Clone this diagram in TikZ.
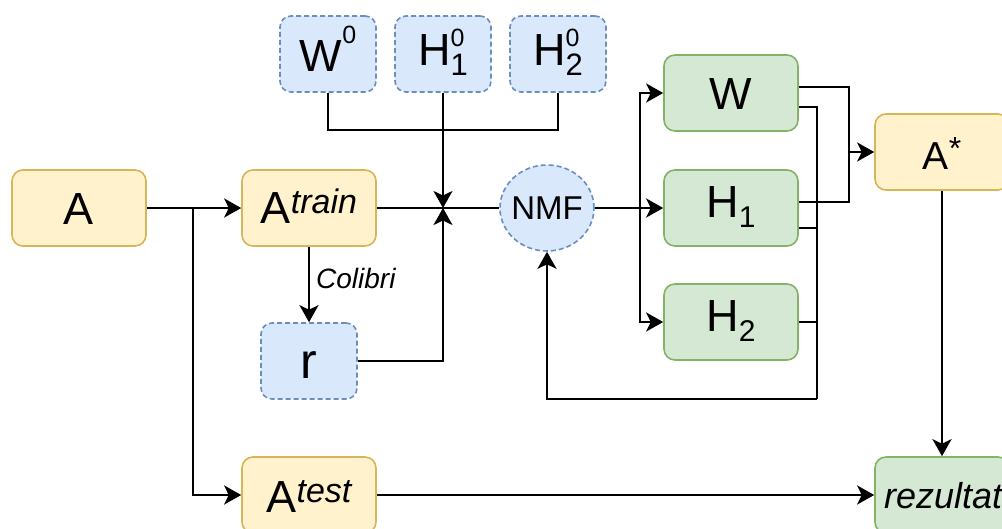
\documentclass[tikz,border=0pt]{standalone}
\usepackage{fontspec}
\setmainfont{Liberation Sans}
\setsansfont{Liberation Sans}
\usetikzlibrary{arrows.meta,shapes.geometric}
\definecolor{yfill}{HTML}{FFF2CC}
\definecolor{ydraw}{HTML}{D6B656}
\definecolor{bfill}{HTML}{DAE8FC}
\definecolor{bdraw}{HTML}{6C8EBF}
\definecolor{gfill}{HTML}{D5E8D4}
\definecolor{gdraw}{HTML}{82B366}
\newcommand{\fs}[1]{\fontsize{#1}{#1}\selectfont}
\newcommand{\sm}[2]{\smash{\raisebox{#1}{#2}}}
\tikzset{
  box/.style={rectangle, rounded corners=11pt, line width=1.6pt, inner sep=0pt,
    minimum width=134pt, minimum height=76pt, font=\fs{45}},
  ybox/.style={box, fill=yfill, draw=ydraw},
  gbox/.style={box, fill=gfill, draw=gdraw},
  bbox/.style={box, fill=bfill, draw=bdraw, dashed, dash pattern=on 5pt off 3pt, minimum width=96pt},
  conn/.style={line width=2.2pt, black},
  arr/.style={conn, -{Stealth[length=17pt,width=19pt,inset=4.5pt]}},
}
\begin{document}
\begin{tikzpicture}[x=1pt,y=-1pt]
\useasboundingbox (0,0) rectangle (1002,528);
\clip (0,0) rectangle (1002,528);
% nodes
\node[ybox] (A) at (79,208) {\sm{-16pt}{A}};
\node[ybox] (Atr) at (309,208) {\sm{-15pt}{A\raisebox{10pt}{\fs{34}\itshape train}}};
\node[bbox] (W0) at (328,54) {\sm{-17pt}{W\raisebox{28pt}{\fs{25}0}}};
\node[bbox] (H10) at (443,54) {\sm{-11pt}{H\rlap{\raisebox{19pt}{\fs{25}0}}\raisebox{-10pt}{\fs{31}1}}};
\node[bbox] (H20) at (558,54) {\sm{-11pt}{H\rlap{\raisebox{19pt}{\fs{25}0}}\raisebox{-10pt}{\fs{31}2}}};
\node[bbox] (r) at (309,361) {\sm{-17pt}{\fs{50}r}};
\node[ellipse, fill=bfill, draw=bdraw, line width=1.6pt, dashed, dash pattern=on 5pt off 3pt,
  minimum width=94pt, minimum height=86pt, inner sep=0pt, font=\fs{33}] (NMF) at (547,208) {\sm{-11pt}{\makebox[0pt]{NMF}}};
\node[gbox] (W) at (731,93) {\sm{-16pt}{W}};
\node[gbox] (H1) at (731,208) {\sm{-9pt}{H\raisebox{-10pt}{\fs{30}1}}};
\node[gbox] (H2) at (731,322) {\sm{-9pt}{H\raisebox{-10pt}{\fs{30}2}}};
\node[ybox] (As) at (942,152) {\sm{-17pt}{\fs{39}A\raisebox{10pt}{\fs{32}*}}};
\node[ybox] (Ate) at (309,495) {\sm{-17pt}{A\raisebox{10pt}{\fs{34}\itshape test}}};
\node[gbox] (rez) at (942,495) {};
\node[anchor=base west, font=\fs{36}\itshape, inner sep=0pt] (reztxt) at (884,508) {rezultat};
\node[anchor=base west, font=\fs{28}\itshape, inner sep=0pt] (col) at (316,288) {Colibri};
% coordinates
\coordinate (sp) at (193,208);
\coordinate (j) at (443,208);
\coordinate (bus) at (443,130);
\coordinate (fan) at (640,208);
% connectors
\draw[arr] (A.east) -- (Atr.west);
\draw[arr] (sp) |- (Ate.west);
\draw[conn] (Atr.east) -- (NMF.west);
\draw[conn] (W0.south) |- (bus) -| (H20.south);
\draw[arr] (H10.south) -- (j);
\draw[arr] (r.east) -| (j);
\draw[arr] (Atr.south) -- (r.north);
\draw[conn] (NMF.east) -- (fan);
\draw[arr] (fan) |- (W.west);
\draw[arr] (fan) -- (H1.west);
\draw[arr] (fan) |- (H2.west);
\coordinate (b1) at (849,152);
\draw[conn] ([yshift=6pt]W.east) -| (b1) |- ([yshift=6pt]H1.east);
\draw[arr] (b1) -- (As.west);
\coordinate (b2) at (817,399);
\draw[conn] ([yshift=-14pt]W.east) -| (b2);
\draw[arr] (b2) -| (NMF.south);
\draw[conn] ([yshift=-20pt]H1.east) -- ++(19,0);
\draw[conn] (H2.east) -- ++(19,0);
\draw[arr] (As.south) -- (rez.north);
\draw[arr] (Ate.east) -- (rez.west);
\end{tikzpicture}
\end{document}
